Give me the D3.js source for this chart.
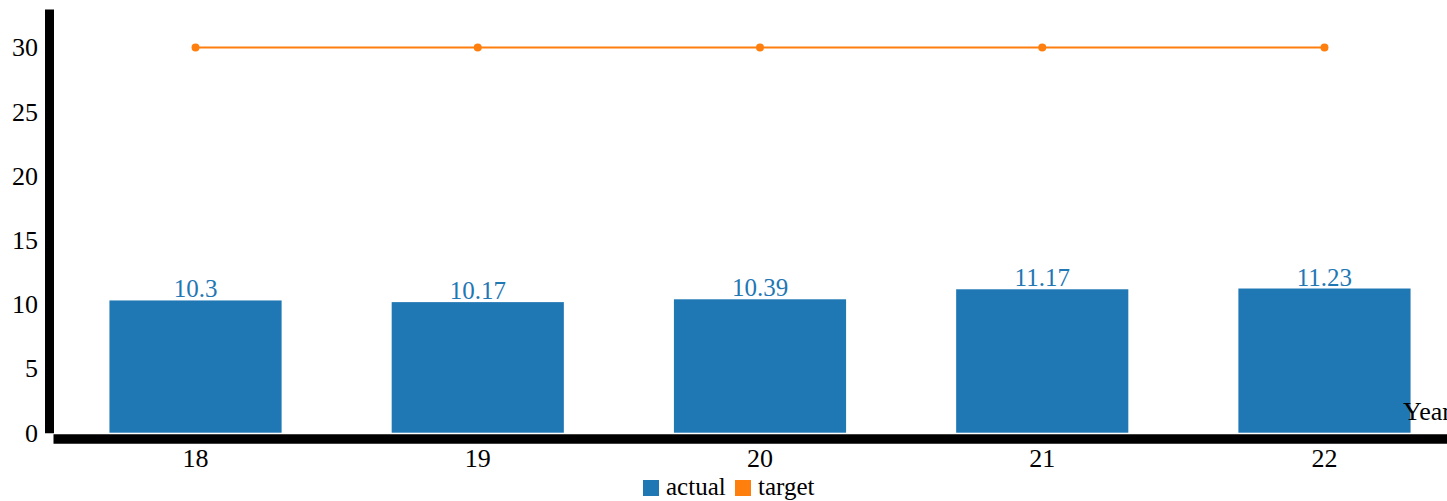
<!DOCTYPE html>
<html>
<head>
<meta charset="utf-8">
<script src="https://cdn.jsdelivr.net/npm/d3@7"></script>
<style>
  body { margin: 0; background: #fff; }
  svg { display: block; font-family: "Liberation Serif", "Times New Roman", serif; }
</style>
</head>
<body>
<svg id="chart" width="1447" height="501"></svg>
<script>
const years = ['18', '19', '20', '21', '22'];
const actual = [10.3, 10.17, 10.39, 11.17, 11.23];
const target = [30, 30, 30, 30, 30];
const yTicks = [0, 5, 10, 15, 20, 25, 30];
const seriesNames = ['actual', 'target'];
const seriesColors = ['#1f77b4', '#ff7f0e'];

const svg = d3.select('#chart');

const x = d3.scaleBand()
  .domain(years)
  .range([53, 1467])
  .paddingInner(0.39)
  .paddingOuter(0.2);

const y = d3.scaleLinear()
  .domain([0, 33])
  .range([432.7, 9]);

// bars
svg.selectAll('rect.bar')
  .data(actual)
  .enter()
  .append('rect')
  .attr('class', 'bar')
  .attr('x', (d, i) => x(years[i]))
  .attr('y', d => y(d))
  .attr('width', x.bandwidth())
  .attr('height', d => y(0) - y(d))
  .style('fill', seriesColors[0]);

// bar labels
svg.selectAll('text.val')
  .data(actual)
  .enter()
  .append('text')
  .attr('class', 'val')
  .attr('x', (d, i) => x(years[i]) + x.bandwidth() / 2)
  .attr('y', d => y(d) - 3)
  .attr('text-anchor', 'middle')
  .style('font-size', '25px')
  .style('fill', seriesColors[0])
  .text(d => d);

// target line
const line = d3.line()
  .x((d, i) => x(years[i]) + x.bandwidth() / 2)
  .y(d => y(d));

svg.append('path')
  .datum(target)
  .attr('d', line)
  .style('fill', 'none')
  .style('stroke', seriesColors[1])
  .style('stroke-width', 2);

svg.selectAll('circle')
  .data(target)
  .enter()
  .append('circle')
  .attr('cx', (d, i) => x(years[i]) + x.bandwidth() / 2)
  .attr('cy', d => y(d))
  .attr('r', 4)
  .style('fill', seriesColors[1]);

// y axis
const yAxis = svg.append('g')
  .attr('transform', 'translate(49,0)')
  .call(d3.axisLeft(y).tickValues(yTicks).tickSize(0).tickSizeOuter(0).tickPadding(11));
yAxis.select('.domain').style('stroke', '#000').style('stroke-width', 9);
yAxis.selectAll('text').style('font-size', '26px').style('font-family', 'Liberation Serif').style('fill', '#000');

// x axis
const xAxis = svg.append('g')
  .attr('transform', 'translate(0,438.5)')
  .call(d3.axisBottom(x).tickSize(0).tickSizeOuter(0).tickPadding(10));
xAxis.select('.domain').style('stroke', '#000').style('stroke-width', 9.5);
xAxis.selectAll('text').style('font-size', '26px').style('font-family', 'Liberation Serif').style('fill', '#000');

svg.append('text')
  .attr('x', 1403)
  .attr('y', 420)
  .style('font-size', '26px')
  .text('Year');

// legend
const legend = svg.append('g').attr('transform', 'translate(643,480)');
const offsets = [0, 92];
seriesNames.forEach((name, i) => {
  const g = legend.append('g').attr('transform', `translate(${offsets[i]},0)`);
  g.append('rect')
    .attr('width', 16)
    .attr('height', 16)
    .style('fill', seriesColors[i]);
  g.append('text')
    .attr('x', 23)
    .attr('y', 15)
    .style('font-size', '25px')
    .text(name);
});
</script>
</body>
</html>
